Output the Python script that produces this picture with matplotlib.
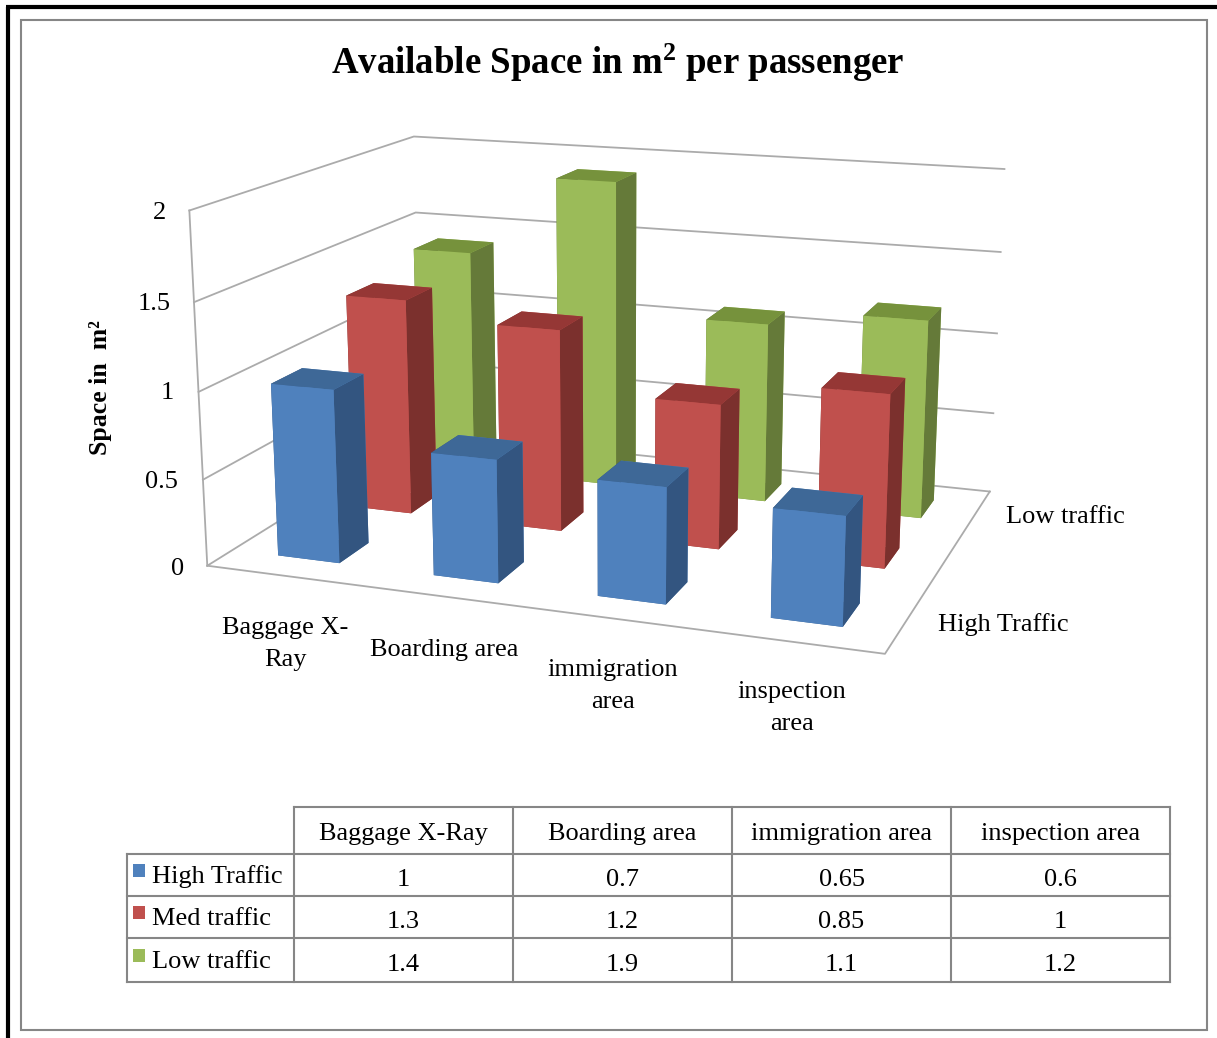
import numpy as np
import matplotlib
matplotlib.use('Agg')
import matplotlib.pyplot as plt
from matplotlib.patches import Rectangle

plt.rcParams['font.family'] = ['Liberation Serif', 'DejaVu Serif']
plt.rcParams['mathtext.fontset'] = 'custom'
plt.rcParams['mathtext.rm'] = 'Liberation Serif'
plt.rcParams['mathtext.bf'] = 'Liberation Serif:bold'

categories = ['Baggage X-Ray', 'Boarding area', 'immigration area', 'inspection area']
axis_labels = ['Baggage X-\nRay', 'Boarding area', 'immigration\narea', 'inspection\narea']
series_names = ['High Traffic', 'Med traffic', 'Low traffic']
high_traffic = [1, 0.7, 0.65, 0.6]
med_traffic = [1.3, 1.2, 0.85, 1]
low_traffic = [1.4, 1.9, 1.1, 1.2]
z_ticks = [0, 0.5, 1, 1.5, 2]
z_tick_text = ['0', '0.5', '1', '1.5', '2']

W, H = 1217, 1038
GRID = '#ababab'
FRAME = '#868686'
FS = 19

# top, front, side colours for each series
face_colors = [('#3e6897', '#4f81bd', '#335580'),
               ('#953735', '#c0504d', '#7b302d'),
               ('#76923c', '#9bbb59', '#657a39')]

# box corners (category, series, value) and where they land on the page
box_pts = np.array([(0, 0, 0), (4, 0, 0), (4, 3, 0), (0, 3, 0), (0, 0, 2), (0, 3, 2), (4, 3, 2),
                    (0, 0, 1), (4, 3, 1)], float)
page_pts = np.array([(207, 567), (884, 655), (990, 490), (421, 433), (189, 210), (413, 137), (1005, 170),
                     (200, 390), (997, 333)], float)


def fit_camera(xyz, uv):
    # direct linear transform, 3x4 camera from point pairs
    rows = []
    for (x, y, z), (u, v) in zip(xyz, uv):
        rows.append([x, y, z, 1, 0, 0, 0, 0, -u*x, -u*y, -u*z, -u])
        rows.append([0, 0, 0, 0, x, y, z, 1, -v*x, -v*y, -v*z, -v])
    cam = np.linalg.svd(np.array(rows))[2][-1].reshape(3, 4)
    if cam[2] @ [2, 1.5, 1, 1] < 0:
        cam = -cam
    return cam / (cam[2] @ [2, 1.5, 1, 1])


camera = fit_camera(box_pts, page_pts)

fig = plt.figure(figsize=(W/100, H/100), dpi=100, facecolor='white')

# page-sized layer for the frames, texts and table
page = fig.add_axes([0, 0, 1, 1], zorder=0)
page.set_xlim(0, W)
page.set_ylim(H, 0)
page.axis('off')

ax = fig.add_axes([0, 0, 1, 1], projection='3d', zorder=1)
ax.patch.set_alpha(0)
ax.set_axis_off()
ax.computed_zorder = False


def get_proj():
    # Excel-like 3D view: the fixed camera replaces mplot3d's own view
    flip = np.array([[1, 0, 0], [0, -1, H], [0, 0, 1.0]])
    m = ax.transData.inverted().get_matrix() @ flip @ camera
    return np.array([m[0], m[1], [0, 0, 0, -1], m[2]])


ax.get_proj = get_proj

# walls and floor
for z in z_ticks:
    ax.plot([0, 0, 4], [0, 3, 3], [z, z, z], color=GRID, lw=1.3, zorder=1, clip_on=False)
ax.plot([0, 0], [0, 0], [0, 2], color=GRID, lw=1.3, zorder=1, clip_on=False)
ax.plot([0, 4, 4], [0, 0, 3], [0, 0, 0], color=GRID, lw=1.3, zorder=1, clip_on=False)

bar_w = 0.40
bar_d = 0.39
values = [high_traffic, med_traffic, low_traffic]
order = 2
for row in (2, 1, 0):
    top, front, side = face_colors[row]
    for col in range(4):
        ax.bar3d(col + 0.30, row + 0.305, 0, bar_w, bar_d, values[row][col],
                 color=[top, top, front, front, side, side], shade=False,
                 zorder=order, clip_on=False, linewidth=0.4, edgecolor='none')
        order += 1
ax.set_xlim(0, 4)
ax.set_ylim(0, 3)
ax.set_zlim(0, 2)

# page frames
page.add_patch(Rectangle((21, 20), 1186, 1010, fill=False, ec=FRAME, lw=1.5))
page.plot([8, 8], [1038, 7], color='black', lw=3, solid_capstyle='butt', solid_joinstyle='miter')
page.plot([6, 1217], [7, 7], color='black', lw=3, solid_capstyle='butt')

page.text(618, 63, r'Available Space in m$\mathbf{^{2}}$ per passenger', ha='center', va='center',
          fontsize=26.6, fontweight='bold')
page.text(101, 388, 'Space in  m²', rotation=90, ha='center', va='center',
          fontsize=18.5, fontweight='bold')

tick_xy = [(184, 569), (178, 482), (174, 393), (171, 304), (166, 213)]
for s, (x, y) in zip(z_tick_text, tick_xy):
    page.text(x, y, s, ha='right', va='center', fontsize=FS)

label_xy = [(285, 644), (444, 650), (613, 686), (792, 708)]
for s, (x, y) in zip(axis_labels, label_xy):
    page.text(x, y, s, ha='center', va='center', fontsize=FS, linespacing=1.6)
page.text(1006, 517, series_names[2], va='center', fontsize=FS)
page.text(938, 625, series_names[0], va='center', fontsize=FS)

# data table under the chart
col_x = [127, 294, 513, 732, 951, 1170]
row_y = [807, 854, 896, 938, 982]
lw = 1.5
page.plot([294, 1170], [807, 807], color=FRAME, lw=lw)
page.plot([127, 1170], [854, 854], color=FRAME, lw=lw)
for y in row_y[2:]:
    page.plot([127, 1170], [y, y], color=FRAME, lw=lw)
page.plot([127, 127], [854, 982], color=FRAME, lw=lw)
for x in col_x[1:]:
    page.plot([x, x], [807, 982], color=FRAME, lw=lw)
for j, name in enumerate(categories):
    page.text((col_x[j+1] + col_x[j+2])/2, 834, name, ha='center', va='center', fontsize=FS)
for i, name in enumerate(series_names):
    ym = (row_y[i+1] + row_y[i+2])/2
    page.add_patch(Rectangle((133, ym - 11), 12, 13, fc=face_colors[i][1], ec='none'))
    page.text(152, ym + 2, name, va='center', fontsize=FS)
    for j, v in enumerate(values[i]):
        page.text((col_x[j+1] + col_x[j+2])/2, ym + 5, '%g' % v, ha='center', va='center', fontsize=FS)

fig.savefig('out.png', dpi=100)
